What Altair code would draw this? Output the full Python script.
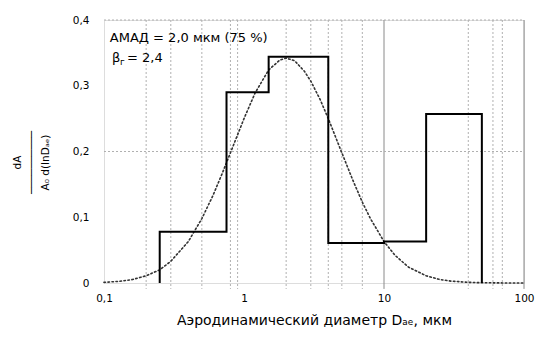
import altair as alt
import pandas as pd

# Histogram (cascade impactor stages): bin edges (µm) and heights
bin_edges = [0.25, 0.75, 1.5, 4.0, 10.0, 20.0, 50.0]
bin_heights = [0.078, 0.29, 0.344, 0.061, 0.063, 0.257]

# Fitted log-normal curve
curve_d = [0.1, 0.13, 0.16, 0.2, 0.25, 0.3, 0.4, 0.5, 0.6, 0.7, 0.8, 1.0, 1.2,
           1.5, 1.8, 2.0, 2.3, 2.7, 3.0, 3.5, 4.0, 5.0, 6.0, 7.0, 8.0, 10.0,
           12.0, 15.0, 20.0, 25.0, 30.0, 40.0, 50.0, 70.0, 100.0]
curve_y = [0.001, 0.0026, 0.0053, 0.011, 0.020, 0.033, 0.063, 0.098, 0.133,
           0.167, 0.198, 0.250, 0.289, 0.324, 0.339, 0.342, 0.338, 0.322,
           0.307, 0.279, 0.250, 0.198, 0.156, 0.123, 0.098, 0.063, 0.042,
           0.024, 0.011, 0.0053, 0.0029, 0.001, 0.0004, 0.0001, 0.0]

# Gridlines as they appear in the picture
grid_minor_x = [0.2, 0.3, 0.5, 0.8, 0.9, 2, 3, 4, 5, 7, 40, 60, 70]
grid_major_x = [10, 100]
grid_y = [0.2, 0.4]

x_ticks = [0.1, 1, 10, 100]
y_ticks = [0, 0.1, 0.2, 0.3, 0.4]

ann_line1 = "АМАД = 2,0 мкм (75 %)"
ann_line2 = "β"
ann_line2_sub = "г"
ann_line2_rest = "= 2,4"

FONT = "DejaVu Sans"

# Build step outline from the bins
pts = []
for i, h in enumerate(bin_heights):
    lo, hi = bin_edges[i], bin_edges[i + 1]
    if i == 0:
        pts.append((lo, 0.0))
    pts.append((lo, h))
    pts.append((hi, h))
pts.append((bin_edges[-1], 0.0))
hist_df = pd.DataFrame({"d": [p[0] for p in pts], "v": [p[1] for p in pts],
                        "o": list(range(len(pts)))})
curve_df = pd.DataFrame({"d": curve_d, "v": curve_y})

xs = alt.Scale(type="log", domain=[0.1, 100], nice=False)
ys = alt.Scale(domain=[0, 0.4], nice=False, zero=True)

x_axis = alt.Axis(values=x_ticks, grid=False, ticks=False, domain=False,
                  labelExpr="replace(format(datum.value, '~g'), '.', ',')",
                  labelFont=FONT, labelFontSize=10.5, labelColor="#000",
                  labelPadding=10, labelFlush=False,
                  title="Аэродинамический диаметр Dₐₑ, мкм",
                  titleFont=FONT, titleFontSize=14, titleFontWeight="normal",
                  titleColor="#000", titlePadding=10)
y_axis = alt.Axis(values=y_ticks, grid=False, ticks=False, domain=False,
                  labelExpr="datum.value == 0 ? '0' : replace(format(datum.value, '.1f'), '.', ',')",
                  labelFont=FONT, labelFontSize=10.5, labelColor="#000",
                  labelPadding=15,
                  title=["dA", "──────────", "A₀ d(lnDₐₑ)"],
                  titleFont=FONT, titleFontSize=10.5, titleFontWeight="normal",
                  titleColor="#000", titlePadding=22, titleLineHeight=14,
                  titleY=142)

minor_df = pd.DataFrame({"d": grid_minor_x})
major_df = pd.DataFrame({"d": grid_major_x})
gy_df = pd.DataFrame({"v": grid_y})

vminor = alt.Chart(minor_df).mark_rule(
    color="#b0b0b0", strokeWidth=1, strokeDash=[2, 2], clip=False
).encode(x=alt.X("d:Q", scale=xs, axis=x_axis),
         y=alt.datum(0.4, scale=ys, axis=y_axis), y2=alt.datum(-0.009))

vmajor = alt.Chart(major_df).mark_rule(
    color="#8a8a8a", strokeWidth=1, clip=False
).encode(x=alt.X("d:Q", scale=xs), y=alt.datum(0.4, scale=ys), y2=alt.datum(-0.009))

hgrid = alt.Chart(gy_df).mark_rule(
    color="#b0b0b0", strokeWidth=1, strokeDash=[2, 2]
).encode(y=alt.Y("v:Q", scale=ys), x=alt.datum(0.1, scale=xs), x2=alt.datum(100))

curve = alt.Chart(curve_df).mark_line(
    color="#333333", strokeWidth=1.6, strokeDash=[1.5, 2.5], strokeCap="round"
).encode(x=alt.X("d:Q", scale=xs), y=alt.Y("v:Q", scale=ys))

hist = alt.Chart(hist_df).mark_line(
    color="#000000", strokeWidth=2, strokeJoin="miter", clip=False
).encode(x=alt.X("d:Q", scale=xs), y=alt.Y("v:Q", scale=ys), order="o:Q")

ann_df = pd.DataFrame({"d": [0.11], "v": [0.372], "t": [ann_line1]})
ann1 = alt.Chart(ann_df).mark_text(
    align="left", baseline="middle", font=FONT, fontSize=13, color="#000"
).encode(x=alt.X("d:Q", scale=xs), y=alt.Y("v:Q", scale=ys), text="t:N")

ann2_df = pd.DataFrame({"d": [0.114], "v": [0.342], "t": [ann_line2]})
ann2 = alt.Chart(ann2_df).mark_text(
    align="left", baseline="middle", font=FONT, fontSize=13, color="#000"
).encode(x=alt.X("d:Q", scale=xs), y=alt.Y("v:Q", scale=ys), text="t:N")
ann2s = alt.Chart(pd.DataFrame({"d": [0.114], "v": [0.342], "t": [ann_line2_sub]})).mark_text(
    align="left", baseline="middle", font=FONT, fontSize=9, color="#000", dx=8, dy=4
).encode(x=alt.X("d:Q", scale=xs), y=alt.Y("v:Q", scale=ys), text="t:N")
ann2r = alt.Chart(pd.DataFrame({"d": [0.114], "v": [0.342], "t": [ann_line2_rest]})).mark_text(
    align="left", baseline="middle", font=FONT, fontSize=13, color="#000", dx=15
).encode(x=alt.X("d:Q", scale=xs), y=alt.Y("v:Q", scale=ys), text="t:N")

chart = alt.layer(vminor, vmajor, hgrid, curve, hist, ann1, ann2, ann2s, ann2r).properties(
    width=420, height=263,
    autosize=alt.AutoSizeParams(type="none"),
    padding={"left": 104, "top": 20, "right": 12, "bottom": 58},
).configure_view(stroke=None).configure(background="white")

chart.save("out.html", embed_options={"renderer": "svg", "actions": False})
